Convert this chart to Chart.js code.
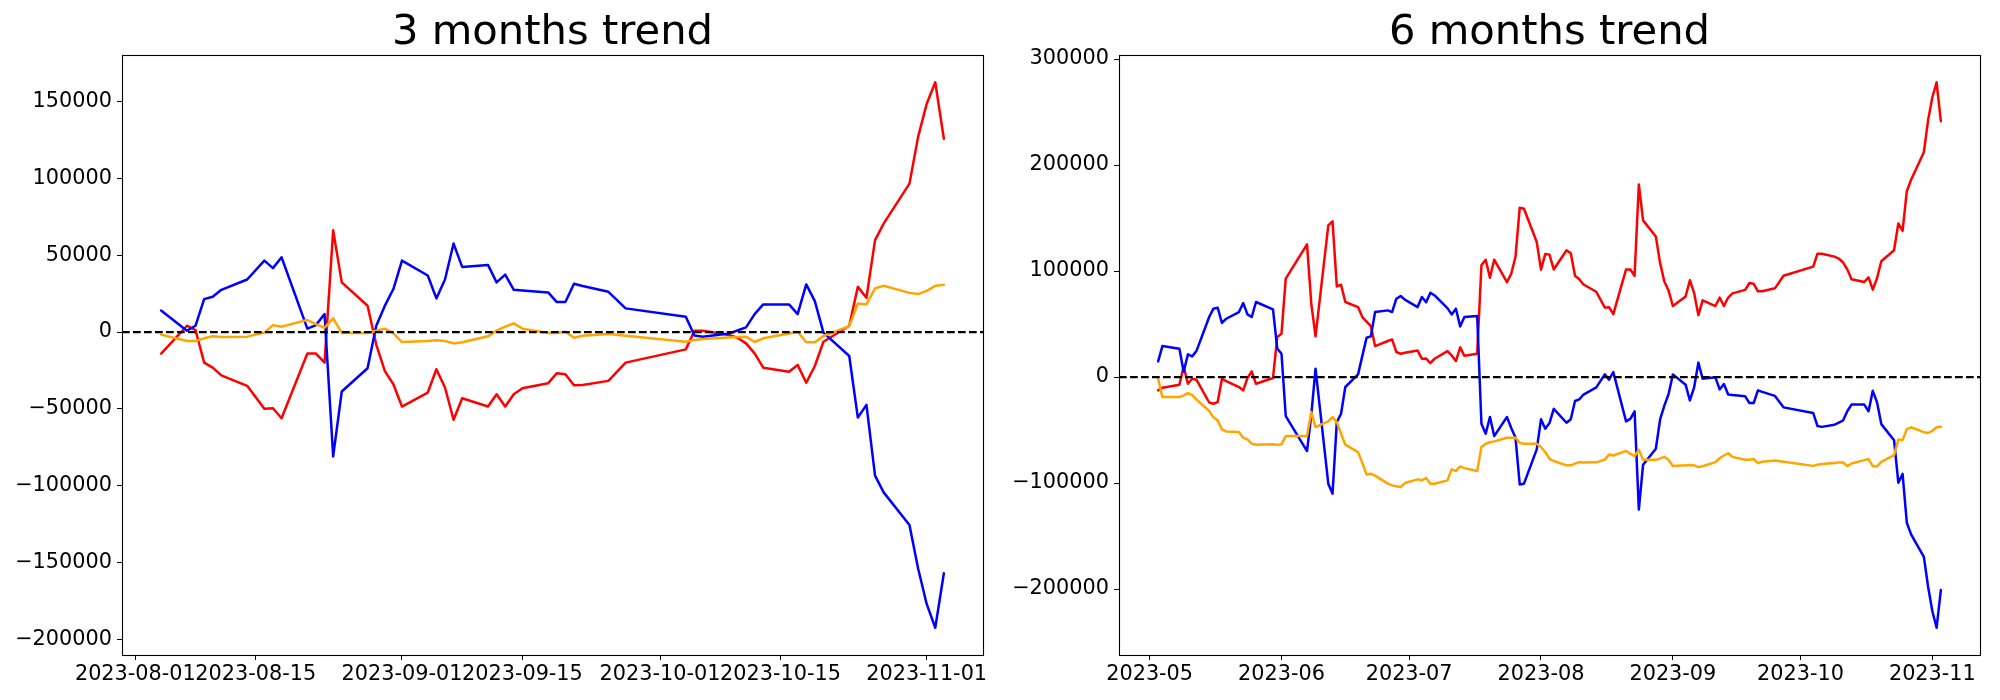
<!DOCTYPE html>
<html>
<head>
<meta charset="utf-8">
<script src="https://cdn.jsdelivr.net/npm/chart.js@4.4.1/dist/chart.umd.min.js"></script>
<style>
html,body{margin:0;padding:0;background:#fff;}
#wrap{position:relative;width:2000px;height:700px;background:#fff;}
canvas{position:absolute;top:0;}
</style>
</head>
<body>
<div id="wrap">
<canvas id="c3" width="1000" height="700" style="left:0px"></canvas>
<canvas id="c6" width="1000" height="700" style="left:1000px"></canvas>
</div>
<script>
// ---------- 3 months ----------
const dates3 = ['2023-08-04','2023-08-07','2023-08-08','2023-08-09','2023-08-10','2023-08-11',
'2023-08-14','2023-08-16','2023-08-17','2023-08-18',
'2023-08-21','2023-08-22','2023-08-23','2023-08-24','2023-08-25',
'2023-08-28','2023-08-29','2023-08-30','2023-08-31','2023-09-01',
'2023-09-04','2023-09-05','2023-09-06','2023-09-07','2023-09-08',
'2023-09-11','2023-09-12','2023-09-13','2023-09-14','2023-09-15',
'2023-09-18','2023-09-19','2023-09-20','2023-09-21','2023-09-22',
'2023-09-25','2023-09-27',
'2023-10-04','2023-10-05','2023-10-06',
'2023-10-09','2023-10-10','2023-10-11','2023-10-12','2023-10-13',
'2023-10-16','2023-10-17','2023-10-18','2023-10-19','2023-10-20',
'2023-10-23','2023-10-24','2023-10-25','2023-10-26','2023-10-27',
'2023-10-30','2023-10-31','2023-11-01','2023-11-02','2023-11-03'];
const blue3 = [14000,900,4100,21400,23000,27500,
34200,46500,41600,48700,
2200,4500,11700,-81000,-38700,
-23600,4000,17000,28000,46500,
36800,21900,34200,57600,42400,
43700,32300,37400,27500,27000,
25800,19500,19500,31400,30000,
26200,15400,
10000,-2200,-3000,
-1000,1000,3000,11700,18000,
18000,11700,31000,20100,-400,
-15600,-55700,-47400,-93500,-104400,
-125600,-153800,-177000,-192500,-157000];
const red3 = [-14000,4100,1300,-19900,-23200,-28200,
-35000,-50000,-49600,-56100,
-14000,-14000,-19900,66200,32300,
17100,-8000,-25300,-34000,-48500,
-39400,-24200,-36100,-57100,-43100,
-48500,-40500,-48500,-40500,-36600,
-33300,-26800,-27500,-34600,-34500,
-31800,-19900,
-11300,900,900,
-1900,-3700,-7400,-13900,-23200,
-25800,-21400,-33000,-22100,-6300,
4100,29400,22300,59800,70600,
96600,126900,148500,162600,125800];
const orange3 = [-1700,-5800,-5800,-4100,-2800,-3200,
-3000,-400,4500,3500,
7800,5200,2800,8900,-600,
-600,800,2200,-800,-6500,
-5800,-5400,-5800,-7400,-6700,
-2800,900,3500,5600,2200,
-600,-600,200,-3700,-2400,
-1300,-2400,
-6300,-5200,-4500,
-3500,-3200,-3000,-6500,-4100,
-900,200,-6700,-6700,-2600,
3900,18600,18000,28400,30100,
25500,24700,26800,30100,30700];
const xTicks3 = ['2023-08-01','2023-08-15','2023-09-01','2023-09-15','2023-10-01','2023-10-15','2023-11-01'];
const yTicks3 = [-200000,-150000,-100000,-50000,0,50000,100000,150000];

// ---------- 6 months ----------
const dates6 = ['2023-05-03','2023-05-04','2023-05-08','2023-05-09','2023-05-10','2023-05-11','2023-05-12',
'2023-05-15','2023-05-16','2023-05-17','2023-05-18','2023-05-19',
'2023-05-22','2023-05-23','2023-05-24','2023-05-25','2023-05-26',
'2023-05-30','2023-05-31','2023-06-01','2023-06-02',
'2023-06-07','2023-06-08','2023-06-09',
'2023-06-12','2023-06-13','2023-06-14','2023-06-15','2023-06-16',
'2023-06-19','2023-06-20','2023-06-21','2023-06-22','2023-06-23',
'2023-06-26','2023-06-27','2023-06-28','2023-06-29','2023-06-30',
'2023-07-03','2023-07-04','2023-07-05','2023-07-06','2023-07-07',
'2023-07-10','2023-07-11','2023-07-12','2023-07-13','2023-07-14',
'2023-07-17','2023-07-18','2023-07-19','2023-07-20','2023-07-21',
'2023-07-24','2023-07-25','2023-07-26','2023-07-27','2023-07-28',
'2023-07-31','2023-08-01','2023-08-02','2023-08-03',
'2023-08-04','2023-08-07','2023-08-08','2023-08-09','2023-08-10','2023-08-11',
'2023-08-14','2023-08-16','2023-08-17','2023-08-18',
'2023-08-21','2023-08-22','2023-08-23','2023-08-24','2023-08-25',
'2023-08-28','2023-08-29','2023-08-30','2023-08-31','2023-09-01',
'2023-09-04','2023-09-05','2023-09-06','2023-09-07','2023-09-08',
'2023-09-11','2023-09-12','2023-09-13','2023-09-14','2023-09-15',
'2023-09-18','2023-09-19','2023-09-20','2023-09-21','2023-09-22',
'2023-09-25','2023-09-27',
'2023-10-04','2023-10-05','2023-10-06',
'2023-10-09','2023-10-10','2023-10-11','2023-10-12','2023-10-13',
'2023-10-16','2023-10-17','2023-10-18','2023-10-19','2023-10-20',
'2023-10-23','2023-10-24','2023-10-25','2023-10-26','2023-10-27',
'2023-10-30','2023-10-31','2023-11-01','2023-11-02','2023-11-03'];
const blue6 = [14800,29200,26700,5000,21400,19500,24500,
56600,64500,65400,51000,55000,
61300,69800,59100,56600,70800,
63800,27000,22000,-36800,
-69800,-36000,7900,
-100600,-110000,-42500,-34600,-9400,
2500,20000,37100,38400,61300,
62900,61300,73900,76400,73000,
66000,75500,70500,79600,77000,
65000,59100,64500,47800,56600,
57600,-44000,-53500,-37700,-55700,
-37700,-48000,-57000,-101300,-100600,
-68200,-39900,-48700,-43400,
-30000,-43100,-39900,-22600,-21000,-16500,
-9800,2500,-2400,4700,
-41800,-39500,-32300,-125000,-82700,
-67600,-40000,-27000,-16000,2500,
-7200,-22100,-9800,13600,-1600,
-300,-11700,-6600,-16500,-17000,
-18200,-24500,-24500,-12600,-14000,
-17800,-28600,
-34000,-46200,-47000,
-45000,-43000,-41000,-32300,-26000,
-26000,-32300,-13000,-23900,-44400,
-59600,-99700,-91400,-137500,-148400,
-169600,-197800,-221000,-236500,-201000];
const red6 = [-12600,-10100,-7200,10000,-6300,-1600,-2500,
-24000,-25200,-23600,-1600,-3800,
-9400,-12600,-1000,5300,-6300,
-900,37700,40900,92800,
125200,69200,38400,
143100,146900,85500,87100,70800,
66000,56600,52300,48100,29200,
34000,35500,23600,22000,23000,
25000,17300,17500,13200,17300,
24500,20400,15100,28000,20000,
22000,105400,110700,93700,110700,
89600,97500,113200,159800,158800,
127400,101300,116000,115500,
101500,119600,116800,95600,92300,87300,
80500,65500,65900,59400,
101500,101500,95600,181700,147800,
132600,107500,90200,81500,67000,
76100,91300,79400,58400,72400,
67000,75000,67000,75000,78900,
82200,88700,88000,80900,81000,
83700,95600,
104200,116400,116400,
113600,111800,108100,101600,92300,
89700,94100,82500,93400,109200,
119600,144900,137800,175300,186100,
212100,242400,264000,278100,241300];
const orange6 = [-1600,-18900,-18900,-17300,-15100,-17000,-21000,
-32000,-38000,-40900,-49400,-51300,
-51900,-57200,-58800,-62900,-63800,
-63500,-64000,-63500,-55700,
-55700,-33000,-47200,
-41800,-37700,-42500,-53500,-63800,
-70800,-81000,-91900,-91200,-93000,
-100600,-102200,-103000,-103800,-100000,
-96500,-97500,-95300,-100600,-100600,
-97500,-87100,-88700,-84300,-85900,
-88700,-66000,-62900,-61500,-60700,
-57200,-57200,-57200,-62000,-62900,
-62900,-66000,-71000,-77100,
-79200,-83300,-83300,-81600,-80300,-80700,
-80500,-77900,-73000,-74000,
-69700,-72300,-74700,-68600,-78100,
-78100,-76700,-75300,-78300,-84000,
-83300,-82900,-83300,-84900,-84200,
-80300,-76600,-74000,-71900,-75300,
-78100,-78100,-77300,-81200,-79900,
-78800,-79900,
-83800,-82700,-82000,
-81000,-80700,-80500,-84000,-81600,
-78400,-77300,-84200,-84200,-80100,
-73600,-58900,-59500,-49100,-47400,
-52000,-52800,-50700,-47400,-46800];
const xTicks6 = ['2023-05','2023-06','2023-07','2023-08','2023-09','2023-10','2023-11'];
const yTicks6 = [-200000,-100000,0,100000,200000,300000];

// ---------- drawing ----------
const DAY = 86400000;
const toDay = s => Date.parse(s.length === 7 ? s + '-01' : s) / DAY;
function margins(vals){
  const lo = Math.min(...vals), hi = Math.max(...vals), m = (hi - lo) * 0.05;
  return [lo - m, hi + m];
}
const FONT = 'DejaVu Sans';

const zeroLine = {
  id: 'zeroLine',
  afterDatasetsDraw(chart){
    const {ctx, chartArea: a, scales: {y}} = chart;
    const py = y.getPixelForValue(0);
    ctx.save();
    ctx.beginPath(); ctx.rect(a.left, a.top, a.right - a.left, a.bottom - a.top); ctx.clip();
    ctx.strokeStyle = '#000'; ctx.lineWidth = 2.2; ctx.setLineDash([7.7, 3.3]);
    ctx.beginPath(); ctx.moveTo(a.left, py); ctx.lineTo(a.right, py); ctx.stroke();
    ctx.restore();
  }
};
const frame = {
  id: 'frame',
  afterDraw(chart){
    const {ctx, chartArea: a} = chart;
    ctx.save();
    ctx.strokeStyle = '#000'; ctx.lineWidth = 1.1;
    ctx.strokeRect(a.left + 0.5, a.top + 0.5, a.right - a.left, a.bottom - a.top);
    ctx.restore();
  }
};

function build(id, title, dates, series, xTicks, yTicks, geom){
  const xs = dates.map(toDay);
  const [xmin, xmax] = margins(xs);
  const [ymin, ymax] = margins(series.flatMap(s => s.values));
  const gridOpts = {display: true, drawOnChartArea: false, drawTicks: true, tickLength: 5, color: '#000', lineWidth: 1};
  new Chart(document.getElementById(id), {
    type: 'line',
    data: {
      datasets: series.map(s => ({
        data: s.values.map((v, i) => ({x: xs[i], y: v})),
        borderColor: s.color, backgroundColor: s.color,
        borderWidth: 2.5, pointRadius: 0, tension: 0, fill: false,
        borderJoinStyle: 'round', borderCapStyle: 'round', order: s.order
      }))
    },
    options: {
      responsive: false, animation: false, events: [], devicePixelRatio: 1,
      layout: {padding: {left: 0, right: geom.padRight, top: 0, bottom: 0}},
      plugins: {
        legend: {display: false}, tooltip: {enabled: false},
        title: {display: true, text: title, fullSize: false, color: '#000',
          font: {family: FONT, size: 41.7, weight: 'normal', lineHeight: 1},
          padding: {top: 12.5, bottom: 0.8}}
      },
      scales: {
        x: {
          type: 'linear', min: xmin, max: xmax,
          afterBuildTicks: sc => { sc.ticks = xTicks.map(t => ({value: toDay(t)})); },
          afterFit: sc => { sc.height = 45; },
          ticks: {autoSkip: false, maxRotation: 0, minRotation: 0, color: '#000',
            font: {family: FONT, size: 20.8}, padding: 2,
            callback: (v, i) => xTicks[i]},
          grid: gridOpts, border: {display: false}
        },
        y: {
          type: 'linear', min: ymin, max: ymax,
          afterBuildTicks: sc => { sc.ticks = yTicks.map(v => ({value: v})); },
          afterFit: sc => { sc.width = geom.yWidth; },
          ticks: {color: '#000', font: {family: FONT, size: 20.8}, padding: 5,
            callback: v => (v < 0 ? '\u2212' : '') + Math.abs(v)},
          grid: gridOpts, border: {display: false}
        }
      }
    },
    plugins: [zeroLine, frame]
  });
}

build('c3', '3 months trend', dates3, [
  {values: red3, color: '#ff0000', order: 3},
  {values: blue3, color: '#0000ff', order: 2},
  {values: orange3, color: '#ffa500', order: 1}
], xTicks3, yTicks3, {yWidth: 122, padRight: 17});

build('c6', '6 months trend', dates6, [
  {values: red6, color: '#ff0000', order: 3},
  {values: blue6, color: '#0000ff', order: 2},
  {values: orange6, color: '#ffa500', order: 1}
], xTicks6, yTicks6, {yWidth: 119, padRight: 20});
</script>
</body>
</html>
